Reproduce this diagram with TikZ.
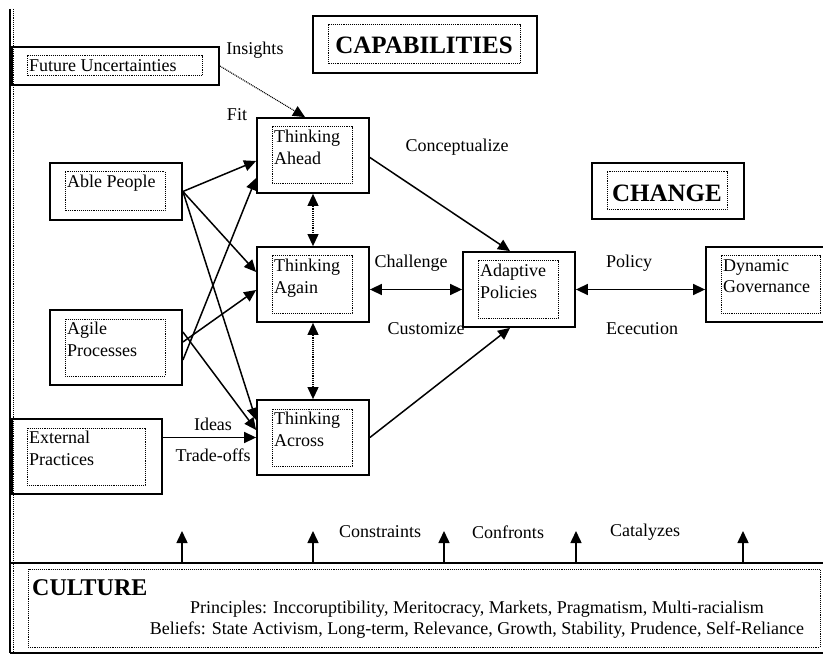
\documentclass[tikz,border=0pt]{standalone}
\usepackage{fontspec}
\setmainfont{Liberation Serif}
\usetikzlibrary{arrows.meta}
\newcommand{\dualbox}[6]{%
  \node[obox, minimum width={#4-#2}, minimum height={#5-#3}] (#1) at ({(#2+#4)/2},{(#3+#5)/2}) {};
  \draw[dotbox] ({#2+15},{#3+9}) rectangle ({#4-17},{#5-9});
  \node[txt, anchor=north west] (#1-t) at ({#2+17},{#3+12}) {#6};
}
\begin{document}
\begin{tikzpicture}[x=1pt,y=-1pt,
  obox/.style={draw, line width=1.8pt, inner sep=0pt, rectangle},
  dotbox/.style={line width=1pt, dash pattern=on 1pt off 0.9pt},
  txt/.style={font=\fontsize{18}{21.5}\selectfont, inner sep=0pt, align=left},
  lbl/.style={font=\fontsize{18}{21.5}\selectfont, inner sep=0pt},
  big/.style={font=\fontsize{25}{28}\selectfont\bfseries, inner sep=0pt},
  tip/.style={-{Triangle[length=12pt,width=11pt]}},
  arr/.style={line width=1.5pt, tip},
  darr/.style={line width=1.5pt, {Triangle[length=12pt,width=11pt]}-{Triangle[length=12pt,width=11pt]}},
  dotarr/.style={dotbox, line width=1.1pt, tip},
  dotdarr/.style={dotbox, line width=1.1pt, {Triangle[length=12pt,width=11pt]}-{Triangle[length=12pt,width=11pt]}}
]
\useasboundingbox (0,0) rectangle (823,658);

% frame
\coordinate (lt) at (10,9);
\coordinate (lb) at (10,653);
\coordinate (dt) at (13.5,9);
\coordinate (db) at (13.5,653);
\coordinate (hl) at (10,563);
\coordinate (hr) at (823,563);
\coordinate (bl) at (10,653);
\coordinate (br) at (823,653);
\draw[line width=1.4pt] (lt) -- (lb);
\draw[dotbox] (dt) -- (db);
\draw[line width=2pt] (hl) -- (hr);
\draw[line width=2pt] (bl) -- (br);

% boxes
\dualbox{fu}{12}{47}{219}{85}{Future Uncertainties}
\dualbox{cap}{313}{16}{537}{73}{}
\node[big] (capt) at (424,45) {CAPABILITIES};
\dualbox{ta}{257}{118}{369}{193}{Thinking\\Ahead}
\dualbox{chg}{592}{163}{744}{219}{}
\node[big] (chgt) at (667,193) {CHANGE};
\dualbox{ap}{50}{163}{182}{220}{Able People}
\dualbox{tg}{257}{247}{369}{322}{Thinking\\Again}
\dualbox{adp}{463}{252}{575}{327}{Adaptive\\Policies}
\dualbox{dg}{706}{247}{837}{322}{Dynamic\\Governance}
\dualbox{agp}{50}{310}{182}{385}{Agile\\Processes}
\dualbox{tx}{257}{400}{369}{475}{Thinking\\Across}
\dualbox{ep}{12}{419}{162}{494}{External\\Practices}

% labels
\node[lbl] (l-ins) at (255,50) {Insights};
\node[lbl] (l-fit) at (237,115) {Fit};
\node[lbl] (l-con) at (457,147) {Conceptualize};
\node[lbl] (l-cha) at (411,263) {Challenge};
\node[lbl] (l-cus) at (426,329) {Customize};
\node[lbl] (l-pol) at (629,263) {Policy};
\node[lbl] (l-exe) at (642,329) {Ececution};
\node[lbl] (l-ide) at (213,424) {Ideas};
\node[lbl] (l-tra) at (213,455) {Trade-offs};
\node[lbl] (l-cst) at (380,532) {Constraints};
\node[lbl] (l-cfr) at (508,532) {Confronts};
\node[lbl] (l-cat) at (645,532) {Catalyzes};

% connectors
\draw[dotarr] (fu.east) -- ([xshift=-8pt]ta.north);
\draw[arr] (ap.east) -- ([yshift=-5.5pt]ta.west);
\draw[arr] (ap.east) -- ([yshift=12.5pt]tg.west);
\draw[arr] (ap.east) -- ([yshift=17.5pt]tx.west);
\draw[arr] ([yshift=-12.5pt]agp.east) -- ([yshift=-22.5pt]ta.west);
\draw[arr] ([yshift=5.5pt]agp.east) -- ([yshift=-5.5pt]tg.west);
\draw[arr] ([yshift=15.5pt]agp.east) -- ([yshift=7.5pt]tx.west);
\draw[arr] (ep.east |- tx.west) -- (tx.west);
\draw[dotdarr] (ta.south) -- (tg.north);
\draw[dotdarr] (tg.south) -- (tx.north);
\draw[arr] ([yshift=-2pt]ta.east) -- ([xshift=-9pt]adp.north);
\draw[arr] (tx.east) -- ([xshift=-9pt]adp.south);
\draw[darr] (tg.east |- adp.west) -- (adp.west);
\draw[darr] (adp.east) -- (adp.east -| dg.west);

% culture
\draw[dotbox] (28,569) rectangle (820,647);
\node[font=\fontsize{24}{28}\selectfont\bfseries, inner sep=0pt, anchor=west] (cul) at (32,588) {CULTURE};
\node[lbl] (pri) at (477,609) {Principles: Inccoruptibility, Meritocracy, Markets, Pragmatism, Multi-racialism};
\node[lbl] (bel) at (477,630) {Beliefs: State Activism, Long-term, Relevance, Growth, Stability, Prudence, Self-Reliance};

% up arrows
\foreach \i/\x in {1/182,2/313,3/444,4/576,5/743}{
  \coordinate (ub\i) at (\x,563);
  \coordinate (ut\i) at (\x,531);
  \draw[arr] (ub\i) -- (ut\i);
}
\end{tikzpicture}
\end{document}
